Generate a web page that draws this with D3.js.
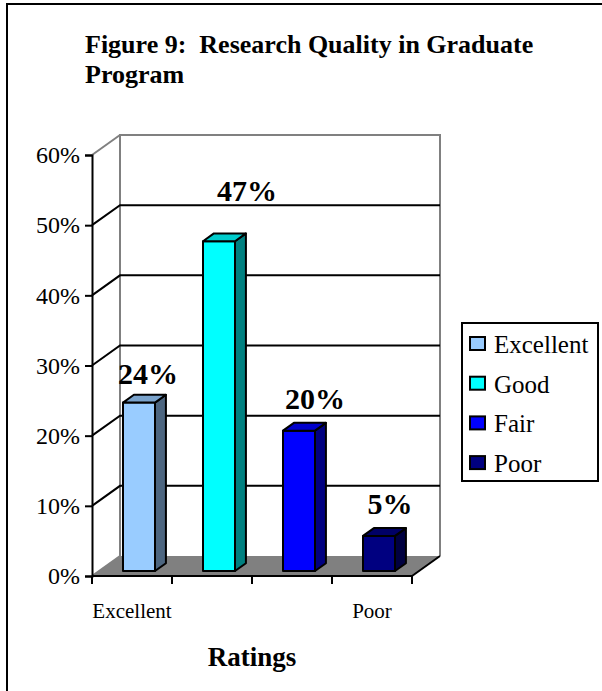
<!DOCTYPE html>
<meta charset="utf-8">
<head>
    <title>Figure 9</title>
    <script src="https://cdn.jsdelivr.net/npm/d3@7"></script>
    <style>
    body { margin: 0; background: #fff; }
    </style>
</head>
<body>
<svg id="chart"></svg>
<script>
    // data
    var categories = ["Excellent", "Good", "Fair", "Poor"];
    var values = [0.24, 0.47, 0.20, 0.05];
    var valueLabels = ["24%", "47%", "20%", "5%"];
    var axisLabels = ["Excellent", "", "", "Poor"];   // Good and Fair are skipped on the axis
    var yTicks = [0, 0.1, 0.2, 0.3, 0.4, 0.5, 0.6];
    var titleLines = ["Figure 9:  Research Quality in Graduate", "Program"];

    var frontColors = ["#99ccff", "#00ffff", "#0000ff", "#000080"];
    var sideColors  = ["#4d6680", "#008080", "#000080", "#000040"];
    var topColors   = ["#7aa3cc", "#00cccc", "#0000cc", "#000066"];
    // label nudges (px) where the chart moved the value labels
    var labelNudge = [[2, 3], [21, -18], [9, 0], [4, 0]];

    var serif = '"Times New Roman", "Liberation Serif", Times, serif';
    var W = 602, H = 691;
    var depthX = 28, depthY = 20;   // 3d depth of the plot box
    var zFront = 0.25, zBack = 0.64; // bar position inside depth

    var svg = d3.select("#chart").attr("width", W).attr("height", H);

    // outer frame (right and bottom run off the picture)
    svg.append("rect").attr("x", 7).attr("y", 4).attr("width", 640).attr("height", 720)
        .attr("fill", "none").attr("stroke", "#000").attr("stroke-width", 2);

    // title
    svg.append("text").attr("x", 85).attr("y", 53)
        .style("font-family", serif).style("font-size", "26px").style("font-weight", "bold")
        .style("white-space", "pre")
        .selectAll("tspan").data(titleLines).enter().append("tspan")
        .attr("x", 85).attr("dy", function(d, i) { return i == 0 ? 0 : 30; })
        .text(function(d) { return d; });

    var x = d3.scaleBand().domain(categories).range([92, 412]).paddingInner(0.6).paddingOuter(0.3);
    var y = d3.scaleLinear().domain([0, 0.6]).range([576, 155]);
    var x0 = 92, x1 = 412;

    function pt(px, v, z) { return [px + depthX * z, y(v) - depthY * z]; }
    var line = function(pts) { return "M" + pts.map(function(p) { return p.join(","); }).join("L"); };

    var walls = svg.append("g");

    // floor
    walls.append("path")
        .attr("d", line([pt(x0, 0, 0), pt(x1, 0, 0), pt(x1, 0, 1), pt(x0, 0, 1)]) + "Z")
        .attr("fill", "#808080").attr("stroke", "none");

    // back wall edges
    walls.append("path").attr("d", line([pt(x0, 0, 1), pt(x0, 0.6, 1), pt(x1, 0.6, 1), pt(x1, 0, 1)]))
        .attr("fill", "none").attr("stroke", "#808080").attr("stroke-width", 2);
    walls.append("path").attr("d", line([pt(x0, 0.6, 0), pt(x0, 0.6, 1)]))
        .attr("fill", "none").attr("stroke", "#808080").attr("stroke-width", 2);
    walls.append("path").attr("d", line([pt(x0, 0, 0), pt(x0, 0, 1)]))
        .attr("fill", "none").attr("stroke", "#808080").attr("stroke-width", 2);

    // gridlines on side and back wall
    walls.selectAll(".grid").data(yTicks.slice(1, -1)).enter().append("path")
        .attr("class", "grid")
        .attr("d", function(v) { return line([pt(x0, v, 0), pt(x0, v, 1), pt(x1, v, 1)]); })
        .attr("fill", "none").attr("stroke", "#000").attr("stroke-width", 2);

    // right floor edge
    walls.append("path").attr("d", line([pt(x1, 0, 0), pt(x1, 0, 1)]))
        .attr("fill", "none").attr("stroke", "#000").attr("stroke-width", 2);

    // y axis
    var yAxis = d3.axisLeft(y).tickValues(yTicks).tickSize(7).tickPadding(5)
        .tickFormat(d3.format(".0%"));
    var ga = svg.append("g").attr("transform", "translate(" + x0 + ",0)").call(yAxis)
        .attr("font-family", null).attr("font-size", null);
    ga.select(".domain").attr("stroke", "#000").attr("stroke-width", 2);
    ga.selectAll(".tick line").attr("stroke", "#000").attr("stroke-width", 2);
    ga.selectAll(".tick text").style("font-family", serif).style("font-size", "24px").attr("fill", "#000");

    // x axis: ticks at the category boundaries
    var boundaries = d3.range(categories.length + 1).map(function(i) { return x0 + i * x.step(); });
    var gx = svg.append("g");
    gx.append("line").attr("x1", x0).attr("x2", x1).attr("y1", y(0)).attr("y2", y(0))
        .attr("stroke", "#000").attr("stroke-width", 2);
    gx.selectAll(".xt").data(boundaries).enter().append("line")
        .attr("x1", function(d) { return d; }).attr("x2", function(d) { return d; })
        .attr("y1", y(0)).attr("y2", y(0) + 8)
        .attr("stroke", "#000").attr("stroke-width", 2);
    gx.selectAll(".xl").data(categories).enter().append("text")
        .attr("x", function(d) { return x(d) + x.bandwidth() / 2; })
        .attr("y", 618).attr("text-anchor", "middle")
        .style("font-family", serif).style("font-size", "21px")
        .text(function(d, i) { return axisLabels[i]; });

    svg.append("text").attr("x", (x0 + x1) / 2).attr("y", 666).attr("text-anchor", "middle")
        .style("font-family", serif).style("font-size", "27px").style("font-weight", "bold")
        .text("Ratings");

    // 3d bars
    var bars = svg.selectAll(".bar").data(categories).enter().append("g").attr("class", "bar");
    function face(sel, fn, colors) {
        sel.append("path").attr("d", fn)
            .attr("fill", function(d, i) { return colors[i]; })
            .attr("stroke", "#000").attr("stroke-width", 2).attr("stroke-linejoin", "round");
    }
    face(bars, function(d, i) {
        var a = x(d), b = a + x.bandwidth(), v = values[i];
        return line([pt(a, 0, zFront), pt(b, 0, zFront), pt(b, v, zFront), pt(a, v, zFront)]) + "Z";
    }, frontColors);
    face(bars, function(d, i) {
        var b = x(d) + x.bandwidth(), v = values[i];
        return line([pt(b, 0, zFront), pt(b, 0, zBack), pt(b, v, zBack), pt(b, v, zFront)]) + "Z";
    }, sideColors);
    face(bars, function(d, i) {
        var a = x(d), b = a + x.bandwidth(), v = values[i];
        return line([pt(a, v, zFront), pt(b, v, zFront), pt(b, v, zBack), pt(a, v, zBack)]) + "Z";
    }, topColors);

    // value labels
    bars.append("text")
        .attr("x", function(d, i) { return x(d) + x.bandwidth() / 2 + depthX / 2 + labelNudge[i][0]; })
        .attr("y", function(d, i) { return pt(0, values[i], zBack)[1] - 14 + labelNudge[i][1]; })
        .attr("text-anchor", "middle")
        .style("font-family", serif).style("font-size", "30px").style("font-weight", "bold")
        .text(function(d, i) { return valueLabels[i]; });

    // legend
    var lg = svg.append("g");
    lg.append("rect").attr("x", 462).attr("y", 323).attr("width", 136).attr("height", 158)
        .attr("fill", "#fff").attr("stroke", "#000").attr("stroke-width", 2);
    var items = lg.selectAll(".li").data(categories).enter().append("g")
        .attr("transform", function(d, i) { return "translate(470," + (353 + i * 39.7) + ")"; });
    items.append("rect").attr("x", 0).attr("y", -16).attr("width", 15).attr("height", 13)
        .attr("fill", function(d, i) { return frontColors[i]; })
        .attr("stroke", "#000").attr("stroke-width", 2);
    items.append("text").attr("x", 24).attr("y", 0)
        .style("font-family", serif).style("font-size", "25px")
        .text(function(d) { return d; });
</script>
</body>
</html>
